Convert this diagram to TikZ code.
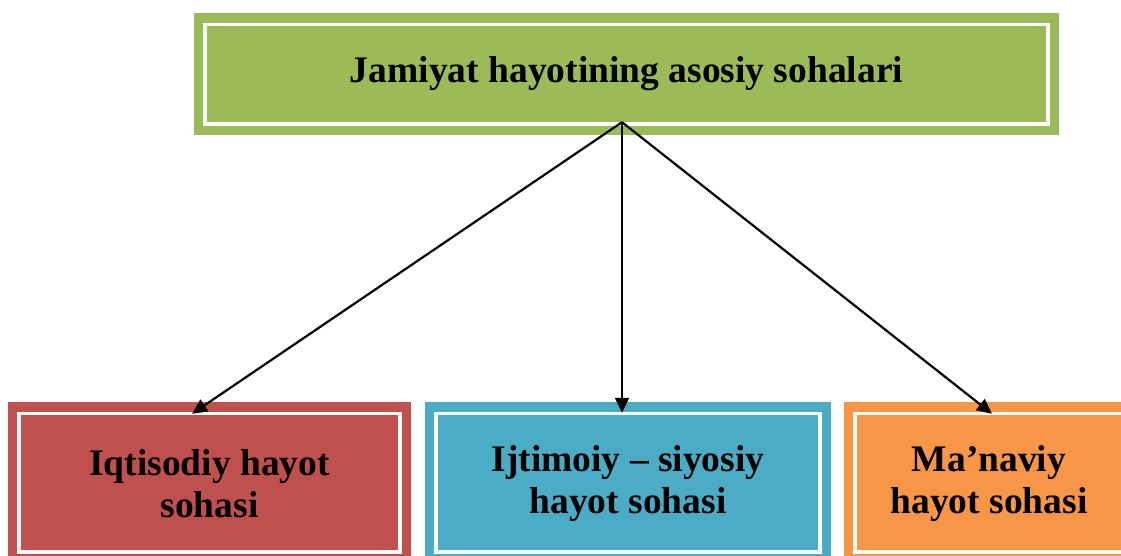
\documentclass[tikz,border=0pt]{standalone}
\usepackage{fontspec}
\setmainfont{Liberation Serif}
\usetikzlibrary{arrows.meta}
\definecolor{gboxc}{HTML}{9BBB59}
\definecolor{rboxc}{HTML}{C0504D}
\definecolor{bboxc}{HTML}{4BACC6}
\definecolor{oboxc}{HTML}{F79646}
\tikzset{
  area/.style={rectangle, inner sep=0pt, align=center,
    font=\bfseries\fontsize{37.5}{42}\selectfont,
    path picture={\draw[white, line width=3.6pt]
      ([shift={(11pt,-11.5pt)}]path picture bounding box.north west) rectangle
      ([shift={(-11pt,#1)}]path picture bounding box.south east);}},
  area/.default=11pt,
  link/.style={line width=2.2pt, -{Triangle[length=15pt,width=14pt]}}
}
\begin{document}
\begin{tikzpicture}[x=1pt, y=-1pt]
\path[use as bounding box, clip] (0,0) rectangle (1121,556);
\fill[white] (0,0) rectangle (1121,556);
\node[area, fill=gboxc, minimum width=865pt, minimum height=122pt] (top) at (626.5,74) {Jamiyat hayotining asosiy sohalari};
\node[area=14pt, fill=rboxc, minimum width=403pt, minimum height=164pt] (iqt) at (209.5,484) {Iqtisodiy hayot\\sohasi};
\node[area=14pt, fill=bboxc, minimum width=406pt, minimum height=164pt] (ijt) at (628,484) {Ijtimoiy – siyosiy\\hayot sohasi};
\node[area=14pt, fill=oboxc, minimum width=290pt, minimum height=164pt] (man) at (989,484) {Ma’naviy\\hayot sohasi};
\coordinate (src) at ([xshift=-4.5pt, yshift=13pt]top.south);
\coordinate (t1) at ([xshift=-17.5pt, yshift=-12pt]iqt.north);
\coordinate (t2) at ([xshift=-6pt, yshift=-11pt]ijt.north);
\coordinate (t3) at ([xshift=3pt, yshift=-12pt]man.north);
\draw[link] (src) -- (t1);
\draw[link] (src) -- (t2);
\draw[link] (src) -- (t3);
\end{tikzpicture}
\end{document}
